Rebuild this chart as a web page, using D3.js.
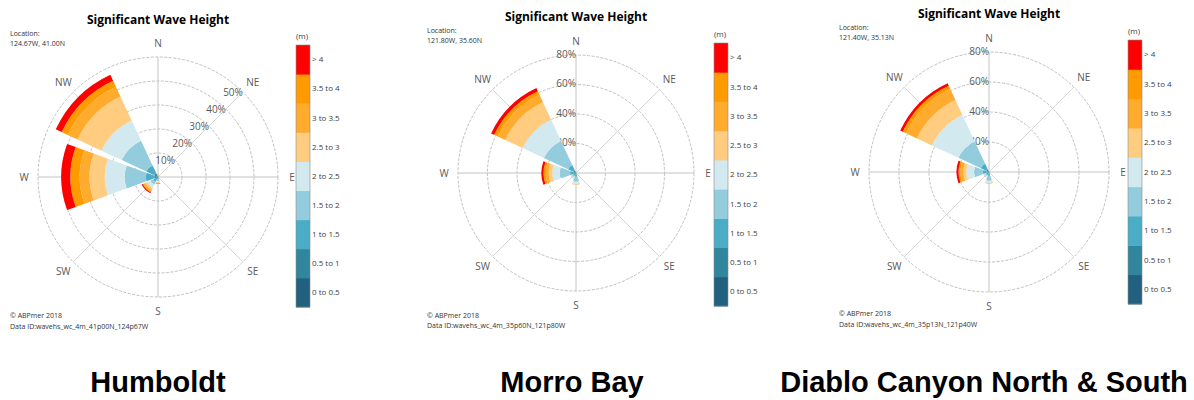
<!DOCTYPE html>
<html>
<head>
<meta charset="utf-8">
<script src="https://d3js.org/d3.v7.min.js"></script>
<style>
body { margin: 0; background: #fff; }
text { font-family: "Open Sans", sans-serif; }
</style>
</head>
<body>
<script>
// directions and wave height bins
const directions = ["N", "NE", "E", "SE", "S", "SW", "W", "NW"];
const bins = ["0 to 0.5", "0.5 to 1", "1 to 1.5", "1.5 to 2", "2 to 2.5", "2.5 to 3", "3 to 3.5", "3.5 to 4", "> 4"];
const binColors = ["#22607f", "#31859c", "#4bacc6", "#93cddd", "#d2e9f0", "#ffcc80", "#ffab2e", "#ff9b00", "#ff0000"];

// % occurrence per direction (rows N..NW), one value per height bin
const humboldt = [
  [0.05, 0.15, 0.3, 0.3, 0.2, 0.1, 0.05, 0.05, 0],
  [0.05, 0.1, 0.1, 0.05, 0, 0, 0, 0, 0],
  [0.05, 0.05, 0.05, 0.05, 0, 0, 0, 0, 0],
  [0.05, 0.1, 0.15, 0.1, 0.05, 0, 0, 0, 0],
  [0.1, 0.3, 0.6, 0.7, 0.5, 0.3, 0.3, 0.1, 0.05],
  [0.3, 0.7, 1.2, 1.4, 1.4, 0.9, 0.7, 0.4, 0.5],
  [0.3, 1.2, 3.6, 8.8, 8.3, 6.3, 4.1, 3.9, 3.8],
  [0.5, 1.3, 3.6, 11.3, 9.3, 11.0, 4.5, 2.8, 2.7]
];
const morroBay = [
  [0.05, 0.1, 0.1, 0.05, 0, 0, 0, 0, 0],
  [0.05, 0.05, 0.05, 0, 0, 0, 0, 0, 0],
  [0.05, 0.05, 0.05, 0, 0, 0, 0, 0, 0],
  [0.05, 0.1, 0.1, 0.05, 0, 0, 0, 0, 0],
  [0.3, 0.7, 1.5, 3.5, 1.5, 0.3, 0.1, 0.05, 0.05],
  [0.3, 0.7, 1.2, 1.0, 0.5, 0.2, 0.1, 0.05, 0.05],
  [0.5, 1.0, 2.5, 7.0, 5.0, 2.5, 2.0, 1.5, 1.5],
  [0.5, 1.5, 4.0, 18.0, 16.0, 13.0, 5.5, 2.7, 2.3]
];
const diablo = [
  [0.05, 0.1, 0.1, 0.05, 0, 0, 0, 0, 0],
  [0.05, 0.05, 0.05, 0, 0, 0, 0, 0, 0],
  [0.05, 0.05, 0.05, 0, 0, 0, 0, 0, 0],
  [0.05, 0.1, 0.1, 0.05, 0, 0, 0, 0, 0],
  [0.3, 0.7, 1.5, 3.3, 1.5, 0.3, 0.1, 0.05, 0.05],
  [0.3, 0.7, 1.2, 1.0, 0.5, 0.2, 0.1, 0.05, 0.05],
  [0.5, 1.0, 2.5, 6.0, 5.0, 2.0, 2.0, 1.3, 1.4],
  [0.5, 1.5, 4.0, 16.5, 19.5, 11.0, 8.0, 2.5, 1.8]
];

const siteData = [humboldt, morroBay, diablo];
const siteNames = ["Humboldt", "Morro Bay", "Diablo Canyon North & South"];
const locations = ["124.67W, 41.00N", "121.80W, 35.60N", "121.40W, 35.13N"];
const dataIds = ["wavehs_wc_4m_41p00N_124p67W", "wavehs_wc_4m_35p60N_121p80W", "wavehs_wc_4m_35p13N_121p40W"];
const ringTicks = [[10, 20, 30, 40, 50], [20, 40, 60, 80], [20, 40, 60, 80]];
const ringLabels = [["10%", "20%", "30%", "40%", "50%"], ["20%", "40%", "60%", "80%"], ["20%", "40%", "60%", "80%"]];

// panel layout
const panels = [
  {cx: 158, cy: 177, R: 120, legX: 296, legTop: 45, legBot: 307, titleY: 24, infoX: 10, infoY: 35.5, footY: 318, labelX: 158, tickAt: "diag"},
  {cx: 576, cy: 173, R: 118, legX: 714, legTop: 43, legBot: 306, titleY: 21, infoX: 427, infoY: 32.5, footY: 317.5, labelX: 572, tickAt: "north"},
  {cx: 989, cy: 172, R: 120, legX: 1128, legTop: 40, legBot: 304, titleY: 18, infoX: 839, infoY: 29.5, footY: 316, labelX: 984, tickAt: "north"}
];

const svg = d3.select("body").append("svg")
  .attr("width", 1194)
  .attr("height", 400);

const halfWidth = 20 * Math.PI / 180; // 40 deg wedge, 5 deg gap

panels.forEach((p, k) => {
  const g = svg.append("g");
  const r = d3.scaleLinear().domain([0, d3.max(ringTicks[k])]).range([0, p.R]);

  // title + info text
  g.append("text").attr("x", p.cx).attr("y", p.titleY)
    .attr("text-anchor", "middle").style("font-size", "12px").style("font-weight", "bold")
    .text("Significant Wave Height");
  g.append("text").attr("x", p.infoX).attr("y", p.infoY).style("font-size", "7px").attr("fill", "#333").text("Location:");
  g.append("text").attr("x", p.infoX).attr("y", p.infoY + 10).style("font-size", "7px").attr("fill", "#333").text(locations[k]);
  g.append("text").attr("x", p.infoX).attr("y", p.footY).style("font-size", "7px").attr("fill", "#333").text("\u00a9 ABPmer 2018");
  g.append("text").attr("x", p.infoX).attr("y", p.footY + 10.5).style("font-size", "7px").attr("fill", "#333").text("Data ID:" + dataIds[k]);

  const rose = g.append("g").attr("transform", `translate(${p.cx},${p.cy})`);

  // rings
  rose.selectAll(".ring").data(ringTicks[k]).enter().append("circle")
    .attr("r", d => r(d))
    .attr("fill", "none")
    .attr("stroke", "#b0b0b0")
    .attr("stroke-width", 0.8)
    .attr("stroke-dasharray", "3,1.5");

  // spokes
  rose.selectAll(".spoke").data(directions).enter().append("line")
    .attr("x1", 0).attr("y1", 0)
    .attr("x2", (d, i) => p.R * Math.sin(i * Math.PI / 4))
    .attr("y2", (d, i) => -p.R * Math.cos(i * Math.PI / 4))
    .attr("stroke", (d, i) => i % 2 ? "#d6d6d6" : "#c4c4c4")
    .attr("stroke-width", 1);

  // ring labels (drawn under the wedges)
  rose.selectAll(".rl").data(ringTicks[k]).enter().append("text")
    .attr("x", d => p.tickAt === "diag" ? r(d) * Math.SQRT1_2 : 0)
    .attr("y", d => p.tickAt === "diag" ? -r(d) * Math.SQRT1_2 : -r(d) - 1)
    .attr("dy", "0.35em")
    .attr("text-anchor", "end")
    .style("font-size", "10px")
    .attr("fill", "#595959")
    .text((d, i) => ringLabels[k][i]);

  // stacked wedges
  const series = d3.stack().keys(d3.range(bins.length))(siteData[k]);
  const arc = d3.arc()
    .innerRadius(d => r(d[0]))
    .outerRadius(d => r(d[1]))
    .startAngle(d => d.ang - halfWidth)
    .endAngle(d => d.ang + halfWidth);

  series.forEach((s, b) => {
    rose.append("g").selectAll("path")
      .data(s.map((d, i) => ({0: d[0], 1: d[1], ang: i * Math.PI / 4})).filter(d => d[1] > d[0]))
      .enter().append("path")
      .attr("d", arc)
      .attr("fill", binColors[b]);
  });

  // direction labels
  rose.selectAll(".dl").data(directions).enter().append("text")
    .attr("x", (d, i) => (p.R + 14) * Math.sin(i * Math.PI / 4))
    .attr("y", (d, i) => -(p.R + 14) * Math.cos(i * Math.PI / 4))
    .attr("dy", "0.35em")
    .attr("text-anchor", "middle")
    .style("font-size", "10px")
    .attr("fill", "#595959")
    .text(d => d);

  // legend
  const ly = d3.scaleBand().domain(bins.slice().reverse()).range([p.legTop, p.legBot]);
  const leg = g.append("g");
  leg.selectAll("rect").data(bins).enter().append("rect")
    .attr("x", p.legX).attr("y", d => ly(d))
    .attr("width", 14).attr("height", ly.bandwidth() + 0.5)
    .attr("fill", (d, i) => binColors[i]);
  leg.append("rect")
    .attr("x", p.legX).attr("y", p.legTop)
    .attr("width", 14).attr("height", p.legBot - p.legTop)
    .attr("fill", "none").attr("stroke", "#8a8a8a").attr("stroke-width", 0.6);
  leg.selectAll(".ll").data(bins).enter().append("text")
    .attr("x", p.legX + 16)
    .attr("y", d => ly(d) + ly.bandwidth() / 2)
    .attr("dy", "0.35em")
    .style("font-size", "8px")
    .attr("fill", "#404040")
    .text(d => d);
  leg.append("text")
    .attr("x", p.legX + 6).attr("y", p.legTop - 6)
    .attr("text-anchor", "middle")
    .style("font-size", "8px")
    .attr("fill", "#404040")
    .text("(m)");

  // site name
  svg.append("text")
    .attr("x", p.labelX).attr("y", 392)
    .attr("text-anchor", "middle")
    .style("font-family", "'Liberation Sans', Arial, sans-serif")
    .style("font-size", "29px")
    .style("font-weight", "bold")
    .text(siteNames[k]);
});
</script>
</body>
</html>
